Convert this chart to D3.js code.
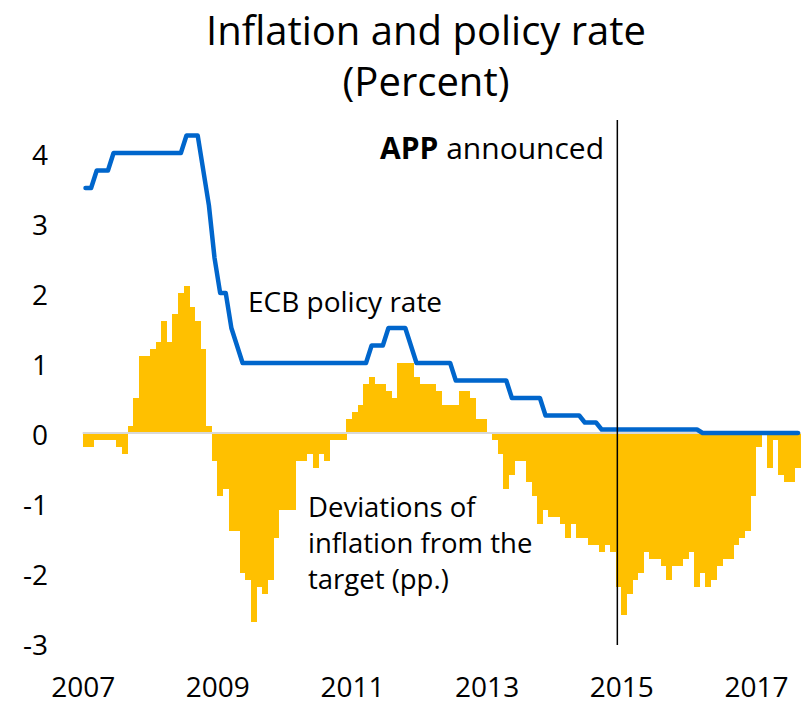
<!DOCTYPE html>
<html><head><meta charset="utf-8">
<script src="https://cdn.jsdelivr.net/npm/d3@7"></script>
<style>body{margin:0;background:#fff}svg{display:block;font-family:"Open Sans","Noto Sans",sans-serif}</style>
</head><body><svg id="c" width="806" height="705"></svg>
<script>
// Monthly data, Jan 2007 .. Aug 2017
const startYear = 2007;
const deviation = [
 -0.2,-0.2,-0.1,-0.1,-0.1,-0.1,-0.2,-0.3, 0.1, 0.5, 1.1, 1.1,
  1.2, 1.3, 1.6, 1.3, 1.7, 2.0, 2.1, 1.8, 1.6, 1.2, 0.1,-0.4,
 -0.9,-0.8,-1.4,-1.4,-2.0,-2.1,-2.7,-2.2,-2.3,-2.1,-1.5,-1.1,
 -1.1,-1.1,-0.4,-0.4,-0.3,-0.5,-0.3,-0.4,-0.1,-0.1,-0.1, 0.2,
  0.3, 0.4, 0.7, 0.8, 0.7, 0.7, 0.6, 0.5, 1.0, 1.0, 1.0, 0.8,
  0.7, 0.7, 0.7, 0.6, 0.4, 0.4, 0.4, 0.6, 0.6, 0.5, 0.2, 0.2,
  0.0,-0.1,-0.3,-0.8,-0.6,-0.4,-0.4,-0.7,-0.9,-1.3,-1.1,-1.2,
 -1.2,-1.3,-1.5,-1.3,-1.5,-1.5,-1.6,-1.6,-1.7,-1.6,-1.7,-2.2,
 -2.6,-2.3,-2.1,-2.0,-1.7,-1.8,-1.8,-1.9,-2.1,-1.9,-1.9,-1.8,
 -1.7,-2.2,-2.0,-2.2,-2.1,-1.9,-1.8,-1.8,-1.6,-1.5,-1.4,-0.9,
 -0.2, 0.0,-0.5,-0.1,-0.6,-0.7,-0.7,-0.5
];
const policyRate = [
 3.50,3.50,3.75,3.75,3.75,4.00,4.00,4.00,4.00,4.00,4.00,4.00,
 4.00,4.00,4.00,4.00,4.00,4.00,4.25,4.25,4.25,3.75,3.25,2.50,
 2.00,2.00,1.50,1.25,1.00,1.00,1.00,1.00,1.00,1.00,1.00,1.00,
 1.00,1.00,1.00,1.00,1.00,1.00,1.00,1.00,1.00,1.00,1.00,1.00,
 1.00,1.00,1.00,1.25,1.25,1.25,1.50,1.50,1.50,1.50,1.25,1.00,
 1.00,1.00,1.00,1.00,1.00,1.00,0.75,0.75,0.75,0.75,0.75,0.75,
 0.75,0.75,0.75,0.75,0.50,0.50,0.50,0.50,0.50,0.50,0.25,0.25,
 0.25,0.25,0.25,0.25,0.25,0.15,0.15,0.15,0.05,0.05,0.05,0.05,
 0.05,0.05,0.05,0.05,0.05,0.05,0.05,0.05,0.05,0.05,0.05,0.05,
 0.05,0.05,0.00,0.00,0.00,0.00,0.00,0.00,0.00,0.00,0.00,0.00,
 0.00,0.00,0.00,0.00,0.00,0.00,0.00,0.00
];
const yTicks = [4,3,2,1,0,-1,-2,-3];
const xTickYears = [2007,2009,2011,2013,2015,2017];
const appMonth = 95.3; // APP announcement marker position (months since Jan 2007)

const FONT = "'Open Sans','Noto Sans',sans-serif";
const svg = d3.select("#c");
const n = deviation.length;
const x = d3.scaleLinear().domain([0, n]).range([82.7, 82.7 + n*5.61]);
const y = d3.scaleLinear().domain([-3, 4]).range([643, 153]);

// title
svg.append("text").attr("x",426).attr("y",45).attr("text-anchor","middle")
  .attr("font-size",40).attr("fill","#000").text("Inflation and policy rate");
svg.append("text").attr("x",426).attr("y",96).attr("text-anchor","middle")
  .attr("font-size",40).attr("fill","#000").text("(Percent)");

// bars
svg.append("g").selectAll("rect").data(deviation).join("rect")
  .attr("x",(d,i)=>x(i)).attr("width",x(1)-x(0)+0.3)
  .attr("y",d=>y(Math.max(0,d))).attr("height",d=>Math.abs(y(d)-y(0)))
  .attr("fill","#FFC000").attr("shape-rendering","crispEdges");

// zero line
svg.append("line").attr("x1",x(0)).attr("x2",x(n)).attr("y1",y(0)).attr("y2",y(0))
  .attr("stroke","#D9D9D9").attr("stroke-width",2);

// policy line
const line = d3.line().x((d,i)=>x(i+0.5)).y(d=>y(d));
svg.append("path").datum(policyRate).attr("d",line).attr("fill","none")
  .attr("stroke","#0066CC").attr("stroke-width",4.5).attr("stroke-linecap","round").attr("stroke-linejoin","round");

// APP vertical line
svg.append("line").attr("x1",x(appMonth)).attr("x2",x(appMonth)).attr("y1",120).attr("y2",645)
  .attr("stroke","#000").attr("stroke-width",1.5);

// y axis labels
const yAxis = d3.axisLeft(y).tickValues(yTicks).tickSize(0).tickPadding(0).tickFormat(d=>String(d));
const gy = svg.append("g").attr("transform","translate(48,3)").call(yAxis);
gy.select(".domain").remove();
gy.selectAll("text").attr("font-size",28).attr("font-family",FONT).attr("fill","#000");

// x axis labels
const xAxis = d3.axisBottom(x).tickValues(xTickYears.map(yr=>(yr-startYear)*12)).tickSize(0).tickPadding(0)
  .tickFormat(v=>String(startYear + v/12));
const gx = svg.append("g").attr("transform","translate(0,677)").call(xAxis);
gx.select(".domain").remove();
gx.selectAll("text").attr("font-size",28).attr("font-family",FONT).attr("fill","#000");

// annotations
const app = svg.append("text").attr("x",380).attr("y",159).attr("font-size",30).attr("fill","#000");
app.append("tspan").attr("font-weight","bold").text("APP");
app.append("tspan").text(" announced");

svg.append("text").attr("x",248).attr("y",312).attr("font-size",28).attr("fill","#000").text("ECB policy rate");
const dev = ["Deviations of","inflation from the","target (pp.)"];
svg.append("g").selectAll("text").data(dev).join("text")
  .attr("x",308).attr("y",(d,i)=>517+i*36).attr("font-size",27.5).attr("fill","#000").text(d=>d);
</script></body></html>
